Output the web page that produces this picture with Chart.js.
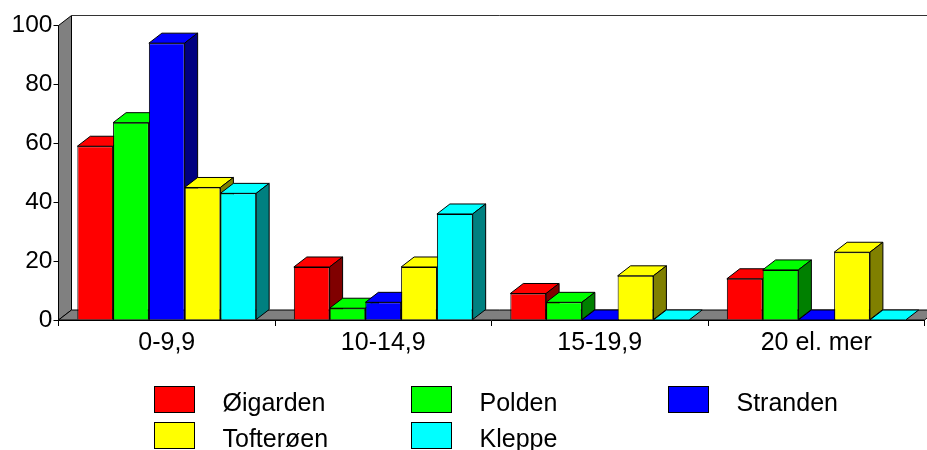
<!DOCTYPE html>
<html>
<head>
<meta charset="utf-8">
<style>html,body{margin:0;padding:0;background:#fff}#w{width:927px;height:450px;position:relative}</style>
<script src="https://cdn.jsdelivr.net/npm/chart.js@4"></script>
</head>
<body>
<div id="w"><canvas id="c" width="927" height="450"></canvas></div>
<script>
const categories = ["0-9,9", "10-14,9", "15-19,9", "20 el. mer"];
const oigarden = [59, 18, 9, 14];
const polden = [67, 4, 6, 17];
const stranden = [94, 6, 0, 0];
const tofteroen = [45, 18, 15, 23];
const kleppe = [43, 36, 0, 0];
const yTicks = [0, 20, 40, 60, 80, 100];

const FONT = '25px "Liberation Sans", Arial, sans-serif';
const DX = 13, DY = -10;
const faceColors = ["#ff0000", "#00ff00", "#0000ff", "#ffff00", "#00ffff"];
const sideColors = ["#800000", "#008000", "#000080", "#808000", "#008080"];

function poly(ctx, pts, fill, stroke) {
  ctx.beginPath();
  pts.forEach((p, i) => i ? ctx.lineTo(p[0], p[1]) : ctx.moveTo(p[0], p[1]));
  ctx.closePath();
  if (fill) { ctx.fillStyle = fill; ctx.fill(); }
  if (stroke) { ctx.strokeStyle = stroke; ctx.lineWidth = 1; ctx.stroke(); }
}

const walls3d = {
  id: "walls3d",
  beforeDatasetsDraw(chart) {
    const ctx = chart.ctx, a = chart.chartArea;
    const L = a.left, R = a.right, T = a.top, B = a.bottom;
    ctx.save();
    poly(ctx, [[L, T], [L + DX, T + DY], [L + DX, B + DY], [L, B]], "#808080", "#000");
    poly(ctx, [[L, B], [L + DX, B + DY], [R + DX, B + DY], [R, B]], "#808080", "#000");
    ctx.strokeStyle = "#333"; ctx.lineWidth = 1;
    ctx.beginPath(); ctx.moveTo(L + DX, T + DY); ctx.lineTo(R + DX, T + DY); ctx.stroke();
    ctx.restore();
  }
};

const bars3d = {
  id: "bars3d",
  beforeDatasetsDraw(chart) {
    const ctx = chart.ctx;
    const metas = chart.data.datasets.map((d, i) => chart.getDatasetMeta(i));
    ctx.save();
    categories.forEach((c, ci) => {
      metas.forEach((m, di) => {
        const el = m.data[ci];
        const { x, y, base, width } = el.getProps(["x", "y", "base", "width"], true);
        const l = x - width / 2, r = x + width / 2;
        poly(ctx, [[l, y], [l + DX, y + DY], [r + DX, y + DY], [r, y]], faceColors[di], "#000");
        if (base - y > 0.5)
          poly(ctx, [[r, y], [r + DX, y + DY], [r + DX, base + DY], [r, base]], sideColors[di], "#000");
        el.draw(ctx);
      });
    });
    ctx.restore();
    return false;
  }
};

const legendBlock = {
  id: "legendBlock",
  afterDraw(chart) {
    const ctx = chart.ctx;
    const cols = [154, 411, 668], rows = [386, 422];
    ctx.save();
    ctx.font = FONT; ctx.textBaseline = "alphabetic"; ctx.textAlign = "left";
    chart.data.datasets.forEach((d, i) => {
      const x = cols[i % 3], y = rows[Math.floor(i / 3)];
      ctx.fillStyle = d.backgroundColor;
      ctx.fillRect(x + .5, y + .5, 40, 26);
      ctx.strokeStyle = "#000"; ctx.lineWidth = 1;
      ctx.strokeRect(x + .5, y + .5, 40, 26);
      ctx.fillStyle = "#000";
      ctx.fillText(d.label, x + 68.5, y + 25);
    });
    ctx.restore();
  }
};

const names = ["Øigarden", "Polden", "Stranden", "Tofterøen", "Kleppe"];
const series = [oigarden, polden, stranden, tofteroen, kleppe];

new Chart(document.getElementById("c"), {
  type: "bar",
  data: {
    labels: categories,
    datasets: series.map((s, i) => ({
      label: names[i], data: s,
      backgroundColor: faceColors[i],
      borderColor: "#000", borderWidth: 1,
      barPercentage: 1, categoryPercentage: 0.826
    }))
  },
  plugins: [walls3d, bars3d, legendBlock],
  options: {
    responsive: false, animation: false, devicePixelRatio: 1,
    layout: { padding: { left: 0, right: 2.5, top: 25.5, bottom: 0 } },
    plugins: { legend: { display: false }, tooltip: { enabled: false }, title: { display: false } },
    scales: {
      x: {
        afterFit(s) { s.height = 130; },
        grid: { display: true, drawOnChartArea: false, color: "#000", tickLength: 6, tickWidth: 1 },
        border: { display: true, color: "#000", width: 1 },
        ticks: { color: "#000", font: { family: '"Liberation Sans", Arial, sans-serif', size: 25 }, padding: 2, maxRotation: 0, autoSkip: false }
      },
      y: {
        min: 0, max: 100,
        afterFit(s) { s.width = 58.5; },
        afterBuildTicks(s) { s.ticks = yTicks.map(v => ({ value: v })); },
        grid: { display: true, drawOnChartArea: false, color: "#000", tickLength: 5, tickWidth: 1 },
        border: { display: true, color: "#000", width: 1 },
        ticks: { color: "#000", font: { family: '"Liberation Sans", Arial, sans-serif', size: 24.5 }, padding: 1 }
      }
    }
  }
});
</script>
</body>
</html>
